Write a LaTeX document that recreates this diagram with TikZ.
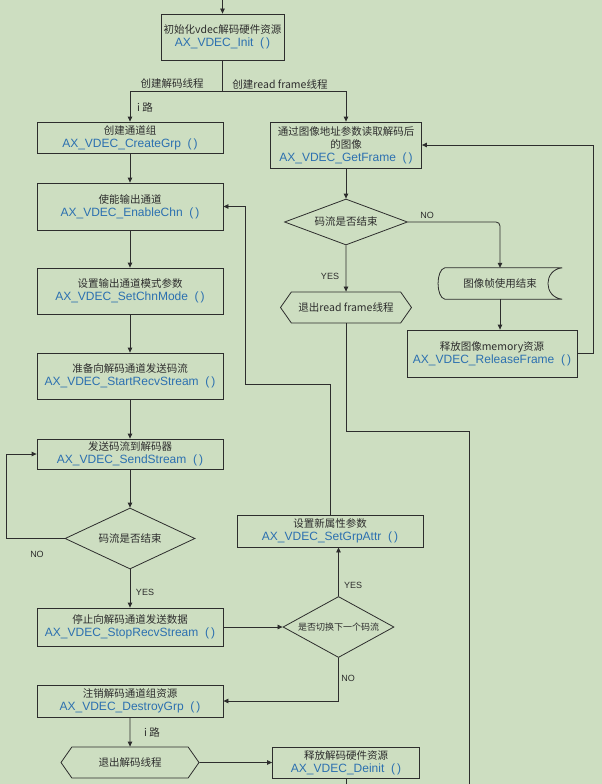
\documentclass[tikz,border=0pt]{standalone}
\usepackage{fontspec}
\setmainfont{Liberation Sans}
\newfontfamily\cjk{Noto Sans CJK SC}
\usepackage{tikz}
\usetikzlibrary{shapes.geometric, shapes.symbols, positioning, arrows.meta}
\definecolor{bggreen}{RGB}{205,222,193}
\definecolor{fnblue}{RGB}{44,112,176}
\definecolor{inkgray}{RGB}{45,45,45}
\newcommand{\fname}[1]{{\rmfamily\color{fnblue}\fontsize{12}{13}\selectfont #1\ \ (\,)}}

\begin{document}
\begin{tikzpicture}[x=1pt, y=-1pt,
        every node/.style={font=\cjk\fontsize{10.5}{13}\selectfont, text=inkgray},
        proc/.style={rectangle, draw=inkgray, line width=0.8pt, inner sep=1pt, align=center, minimum width=#1},
        decision/.style={diamond, draw=inkgray, line width=0.8pt, aspect=2.5, inner sep=0pt},
        term/.style={signal, signal to=west and east, signal pointer angle=110, draw=inkgray, line width=0.8pt, minimum height=31pt, inner sep=0pt},
        lbl/.style={font=\cjk\fontsize{10.5}{12}\selectfont},
        yn/.style={font=\rmfamily\fontsize{9}{10}\selectfont},
        line/.style={draw=inkgray, line width=0.8pt},
        arrow/.style={line, -{Triangle[length=5pt, width=4.5pt]}}
    ]
%
    \fill[bggreen] (0,0) rectangle (602,784);
    \useasboundingbox (0,0) rectangle (602,784);
%
    \node[proc=123pt, minimum height=46pt] (init) at (222.5,37) {初始化vdec解码硬件资源\\\fname{AX\_VDEC\_Init}};
    \node[proc=186pt, minimum height=31pt] (creategrp) at (130,137.5) {创建通道组\\\fname{AX\_VDEC\_CreateGrp}};
    \node[proc=186pt, minimum height=47pt] (enablechn) at (130,206.5) {使能输出通道\\\fname{AX\_VDEC\_EnableChn}};
    \node[proc=186pt, minimum height=46pt] (setchnmode) at (130,291) {设置输出通道模式参数\\\fname{AX\_VDEC\_SetChnMode}};
    \node[proc=186pt, minimum height=46pt] (startrecv) at (130,376) {准备向解码通道发送码流\\\fname{AX\_VDEC\_StartRecvStream}};
    \node[proc=186pt, minimum height=30pt] (sendstream) at (130,454) {发送码流到解码器\\\fname{AX\_VDEC\_SendStream}};
    \node[decision, minimum width=130pt, minimum height=61pt] (streamend) at (130,538.5) {码流是否结束};
    \node[proc=186pt, minimum height=38pt] (stoprecv) at (130,627) {停止向解码通道发送数据\\\fname{AX\_VDEC\_StopRecvStream}};
    \node[decision, minimum width=111pt, minimum height=61pt, font=\cjk\fontsize{9}{10}\selectfont] (nextstream) at (338.5,627) {是否切换下一个码流};
    \node[proc=186pt, minimum height=32pt] (setgrpattr) at (330,531) {设置新属性参数\\\fname{AX\_VDEC\_SetGrpAttr}};
    \node[proc=186pt, minimum height=32pt] (destroygrp) at (130,701) {注销解码通道组资源\\\fname{AX\_VDEC\_DestroyGrp}};
    \node[term, minimum width=138pt] (quitdec) at (130,762.5) {退出解码线程};
    \node[proc=147pt, minimum height=31pt] (deinit) at (346,762.5) {释放解码硬件资源\\\fname{AX\_VDEC\_Deinit}};
%
    \node[proc=151pt, minimum height=46pt] (getframe) at (346,145) {通过图像地址参数读取解码后\\的图像\\\fname{AX\_VDEC\_GetFrame}};
    \node[decision, minimum width=123pt, minimum height=46pt] (frameend) at (346,222) {码流是否结束};
    \node[term, minimum width=131pt] (quitread) at (346,307.5) {退出read frame线程};
    \node[minimum width=124pt, minimum height=31pt, inner sep=0pt] (frameused) at (500,283.5) {图像帧使用结束};
    \draw[line] ([xshift=7pt]frameused.north west) .. controls ([xshift=-2pt, yshift=-2pt]frameused.north west) and ([xshift=-2pt, yshift=2pt]frameused.south west) .. ([xshift=7pt]frameused.south west) -- (frameused.south east) .. controls ([xshift=-19pt, yshift=2pt]frameused.south east) and ([xshift=-19pt, yshift=-2pt]frameused.north east) .. (frameused.north east) -- cycle;
    \node[proc=170pt, minimum height=47pt] (releaseframe) at (492,353.5) {释放图像memory资源\\\fname{AX\_VDEC\_ReleaseFrame}};
%
    \coordinate (entry) at (222.5,0);
    \coordinate (fork) at (222.5,91);
    \draw[arrow] (entry) -- (init);
    \draw[line] (init) -- (fork);
    \draw[arrow] (fork) -| (creategrp);
    \draw[arrow] (fork) -| (getframe);
    \node[lbl] (lbldecthread) at (172,84) {创建解码线程};
    \node[lbl] (lblreadthread) at (280,84) {创建read frame线程};
    \node[lbl] (lblpatha) at (145,107) {i 路};
%
    \draw[arrow] (creategrp) -- (enablechn);
    \draw[arrow] (enablechn) -- (setchnmode);
    \draw[arrow] (setchnmode) -- (startrecv);
    \draw[arrow] (startrecv) -- (sendstream);
    \draw[arrow] (sendstream) -- (streamend);
    \draw[arrow] (streamend.west) -- ++(-58,0) |- (sendstream.west);
    \node[yn] (lblnoa) at (37,554) {NO};
    \draw[arrow] (streamend) -- (stoprecv);
    \node[yn] (lblyesa) at (145,592) {YES};
    \draw[arrow] (stoprecv) -- (nextstream);
    \draw[arrow] (nextstream.north) -- (nextstream.north |- setgrpattr.south);
    \node[yn] (lblyesb) at (353,585) {YES};
    \coordinate (loopback) at (245,384);
    \draw[arrow] (setgrpattr.north) |- (loopback) |- (enablechn.east);
    \draw[arrow] (nextstream.south) |- (destroygrp.east);
    \node[yn] (lblnob) at (348,678) {NO};
    \draw[arrow] (destroygrp) -- (quitdec);
    \node[lbl] (lblpathb) at (152,732) {i 路};
    \draw[arrow] (quitdec) -- (deinit);
    \coordinate (exita) at (346,784);
    \draw[line] (deinit) -- (exita);
%
    \draw[arrow] (getframe) -- (frameend);
    \draw[arrow] (frameend) -- (quitread);
    \node[yn] (lblyesc) at (330,276) {YES};
    \draw[arrow, rounded corners=4pt] (frameend.east) -| (frameused.north);
    \node[yn] (lblnoc) at (427,215) {NO};
    \draw[arrow] (frameused) -- (frameused.south |- releaseframe.north);
    \draw[arrow] (releaseframe.east) -- ++(16,0) |- (getframe.east);
    \coordinate (turnb) at (469,431);
    \coordinate (exitb) at (469,784);
    \draw[line] (quitread) |- (turnb) -- (exitb);
%
\end{tikzpicture}
\end{document}
